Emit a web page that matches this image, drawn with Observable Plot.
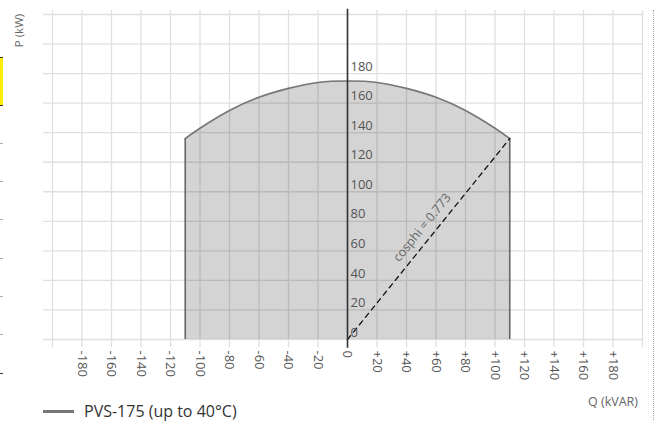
<!DOCTYPE html>
<html>
<head>
<meta charset="utf-8">
<script src="https://cdn.jsdelivr.net/npm/d3@7"></script>
<script src="https://cdn.jsdelivr.net/npm/@observablehq/plot@0.6"></script>
<style>
  html, body { margin: 0; padding: 0; background: #fff; }
  body { width: 659px; height: 421px; position: relative; overflow: hidden; font-family: "Open Sans", "Noto Sans", sans-serif; }
  #chart svg { display: block; overflow: visible; }
  #below { position: relative; height: 29px; }
  .qlab { position: absolute; right: 21px; top: 2px; font-size: 12.5px; line-height: 16px; color: #666; white-space: nowrap; }
  .leg-line { position: absolute; left: 43px; top: 18px; width: 31px; height: 3px; background: #777; }
  .leg-text { position: absolute; left: 84px; top: 9px; font-size: 16px; color: #333; line-height: 20px; white-space: nowrap; }
  .art { position: absolute; }
</style>
</head>
<body>
<div id="chart"></div>
<div id="below">
  <div class="qlab">Q (kVAR)</div>
  <div class="leg-line"></div>
  <div class="leg-text">PVS-175 (up to 40°C)</div>
</div>
<div class="art" style="left:0;top:57px;width:3px;height:47px;background:#ffee00;border-top:1px solid #333;border-bottom:1px solid #333;"></div>
<div class="art" style="left:653px;top:10px;width:0;height:410px;border-left:1px dotted #9aa;"></div>
<script>
// Grid ticks
const xGrid = [-200,-180,-160,-140,-120,-100,-80,-60,-40,-20,0,20,40,60,80,100,120,140,160,180,200];
const yGrid = [0,20,40,60,80,100,120,140,160,180,200,220];
// Tick labels
const xTickValues = [-180,-160,-140,-120,-100,-80,-60,-40,-20,0,20,40,60,80,100,120,140,160,180];
const xTickLabels = ["-180","-160","-140","-120","-100","-80","-60","-40","-20","0","+20","+40","+60","+80","+100","+120","+140","+160","+180"];
const yTickValues = [0,20,40,60,80,100,120,140,160,180];
const yTickLabels = ["0","20","40","60","80","100","120","140","160","180"];
// Capability curve (Q in kVAR, P in kW)
const arcQ = [-110,-100,-80,-60,-40,-20,0,20,40,60,80,100,110];
const arcP = [136,143,155,164,170,174,175,174,170,164,155,143,136];
// Limit sides
const sideQ = [-110, 110];
const sideP = [136, 136];
// cosphi line
const cosQ = [0, 110];
const cosP = [0, 136];
const cosLabel = "cosphi = 0.773";

const arc = arcQ.map((q, i) => ({q, p: arcP[i]}));
const sides = sideQ.map((q, i) => ({q, p: sideP[i]}));
const cosLine = cosQ.map((q, i) => ({q, p: cosP[i]}));

const plot = Plot.plot({
  width: 659,
  height: 392,
  marginLeft: 52,
  marginRight: 17,
  marginTop: 14,
  marginBottom: 53,
  x: {domain: [-200, 200], axis: null},
  y: {domain: [0, 220], axis: null},
  style: {fontFamily: "'Open Sans', 'Noto Sans', sans-serif", background: "#fff"},
  marks: [
    Plot.ruleX(xGrid, {x: d => d, y1: -5.6, y2: 222.7, stroke: "#e0e0e0", strokeWidth: 1.3, strokeOpacity: 1}),
    Plot.ruleY(yGrid, {y: d => d, x1: -206, x2: 200, stroke: "#e0e0e0", strokeWidth: 1.3, strokeOpacity: 1}),
    Plot.areaY(arc, {x: "q", y: "p", curve: "natural", fill: "#000", fillOpacity: 0.17}),
    Plot.line(arc, {x: "q", y: "p", curve: "natural", stroke: "#777", strokeWidth: 1.6}),
    Plot.ruleX(sides, {x: "q", y1: 0, y2: "p", stroke: "#666", strokeWidth: 1.6}),
    Plot.line(cosLine, {x: "q", y: "p", stroke: "#111", strokeWidth: 1.3, strokeDasharray: "5,4.5"}),
    Plot.ruleX([0], {y1: -6, y2: 223.5, stroke: "#333", strokeWidth: 1.6}),
    Plot.text(yTickValues, {x: 0, y: d => d, text: (d, i) => yTickLabels[i], dx: 3, dy: -7, textAnchor: "start", fontSize: 13, fill: "#555"}),
    Plot.text(xTickValues, {x: d => d, y: 0, text: (d, i) => xTickLabels[i], dy: 11, rotate: 90, textAnchor: "start", fontSize: 13, fill: "#555"}),
    Plot.text([cosLabel], {x: 54, y: 73, text: d => d, rotate: -51, dx: -5, dy: -4, textAnchor: "middle", fontSize: 12.5, fill: "#666"}),
    Plot.text(["P (kW)"], {frameAnchor: "top-left", text: d => d, dx: -38, dy: 16, rotate: -90, textAnchor: "middle", fontSize: 11.5, fill: "#666"})
  ]
});
document.getElementById("chart").appendChild(plot);

// small page artifacts at left edge
[143,181,219,258,296,334,373].forEach((y, i) => {
  const d = document.createElement("div");
  d.className = "art";
  d.style.cssText = `left:0;top:${y}px;width:3px;height:1px;background:${i === 6 ? "#333" : "#aaa"};`;
  document.body.appendChild(d);
});
</script>
</body>
</html>
